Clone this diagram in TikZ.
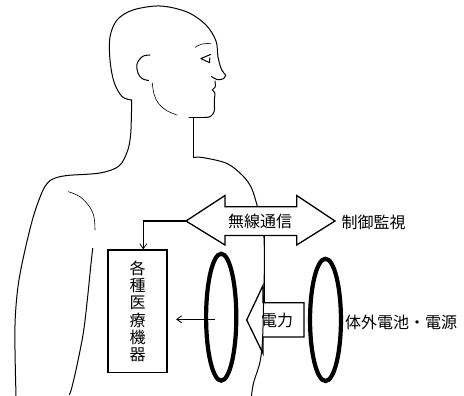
\documentclass[tikz,border=0pt]{standalone}
\usepackage{fontspec}
\newfontfamily\jp{Noto Sans CJK JP}
\usetikzlibrary{shapes.geometric,arrows.meta}
\begin{document}
\begin{tikzpicture}[x=1pt,y=-1pt,
  figline/.style={line width=1pt, line cap=round, line join=round},
  fineline/.style={line width=0.6pt, line cap=round, line join=round},
  label/.style={font=\jp\fontsize{16}{17}\selectfont, inner sep=0pt},
  bigarrow/.style={line width=1.3pt, line join=miter},
  coil/.style={draw, ellipse, line width=4.2pt, inner sep=0pt},
  devicebox/.style={draw, line width=1.1pt, inner sep=0pt, align=center,
    font=\jp\fontsize{16}{17.2}\selectfont},
  tip/.style={-{Straight Barb[length=5pt,width=7pt]}, line width=0.8pt}]
\useasboundingbox (0,0) rectangle (464,396);

% --- head ---
\draw[figline] plot[smooth, tension=0.55] coordinates {
  (131.7,100) (122,96.5) (114,82) (110,60) (110,37) (117,20) (133,10)
  (160,6) (187,12) (206,25) (216,41) (218,57) (221.5,69.5) (225.7,75)};
\draw[figline] plot[smooth, tension=0.6] coordinates {
  (225.7,75) (223.5,78.7) (217,79.5) (211.5,76.5)};
\draw[figline] plot[smooth, tension=0.5] coordinates {
  (215,81) (215.2,87) (212.3,90) (215,93) (214.3,100) (214.3,111) (210.5,116.5) (204,117.5)};
\draw[figline] (204,117.5) -- (189,117.5);
% ear, jaw, eyebrow, eye
\draw[figline] plot[smooth, tension=0.6] coordinates {
  (150,55) (142.5,56.5) (137,64) (138,73) (142,78.5) (148.5,80.5)};
\draw[fineline] plot[smooth, tension=0.6] coordinates {
  (152.3,83) (154,94) (158.5,103.5) (166.5,110.5) (177,115)};
\draw[fineline] plot[smooth, tension=0.6] coordinates {
  (195,47.5) (201,44.3) (211,43.3)};
\draw[figline] (210.5,54.5) -- (200.8,58.6) -- (209.6,62.6) -- (209.8,57.8);

% --- neck and shoulders ---
\draw[figline] (193.5,117.5) -- (193.5,157.5);
\draw[figline] plot[smooth, tension=0.55] coordinates {
  (193.5,157.5) (203,157.6) (227,163.5) (243,176) (251.5,188) (257,205)
  (261.5,222) (264,238) (264.3,270) (263.6,302) (262.5,340) (260,362) (253.5,383) (251.5,396)};
\draw[figline] plot[smooth, tension=0.55] coordinates {
  (131.7,100) (131.3,120) (130.5,136) (127.5,151) (119,166) (100,173)
  (67,175.5) (54,178.5) (47.5,183) (41.7,193) (33.3,216.7) (25,250)
  (18.5,283) (15.3,316.7) (15,350) (16,396)};
% inner arm
\draw[fineline] plot[smooth, tension=0.6] coordinates {
  (68.3,191.7) (80,196.7) (89.5,206.7) (94,217) (95,230)};
\draw[figline] plot[smooth, tension=0.55] coordinates {
  (92.7,248.3) (90.7,266.7) (87.3,300) (83.3,333) (76.7,366.7) (71.7,388) (69.5,394.5)};

% --- wireless link arrow ---
\coordinate (wlL) at (186,221);
\coordinate (wlR) at (335,221);
\draw[bigarrow, fill=white] (wlL) -- (225,195.5) -- (225,206.7) -- (296.7,206.7)
  -- (296.7,195.5) -- (wlR) -- (296.7,245) -- (296.7,235.5) -- (225,235.5)
  -- (225,245) -- cycle;
\node[label] (wireless) at (260,221) {無線通信};
\node[label, anchor=west] (monitor) at (341.5,222) {制御監視};

% --- device box ---
\node[devicebox, minimum width=59pt, minimum height=122.7pt] (device)
  at (137.5,311.3) {各\\種\\医\\療\\機\\器};
\coordinate (wlBend) at (143.3,221);
\draw[line width=1.7pt] (wlL) -- (wlBend);
\draw[tip] (wlBend) -- (wlBend |- device.north);

% --- coils ---
\node[coil, minimum width=30.2pt, minimum height=126.9pt] (coilIn) at (221.2,317.2) {};
\node[coil, minimum width=30.9pt, minimum height=122.2pt] (coilOut) at (325.5,319.9) {};
\node[label, anchor=west] (battery) at (345,322) {体外電池・電源};

% --- power transfer arrow ---
\coordinate (pwTip) at (246.7,320);
\draw[bigarrow] (pwTip) -- (263,285.5) -- (263,302.7) -- (304,302.7)
  -- (304,337) -- (263,337) -- (263,353.5) -- cycle;
\node[label] (power) at (277,320.5) {電力};

% link from the wireless arrow down to the power arrow
\coordinate (wlDown) at (264.3,235.5);
\coordinate (pwTop) at (264.3,302.7);
\draw[line width=1pt] (wlDown) -- (pwTop);

% power delivered to the device
\coordinate (coilFeed) at (215,319.3);
\coordinate (deviceFeed) at (176,319.3);
\draw[tip] (coilFeed) -- (deviceFeed);
\end{tikzpicture}
\end{document}
